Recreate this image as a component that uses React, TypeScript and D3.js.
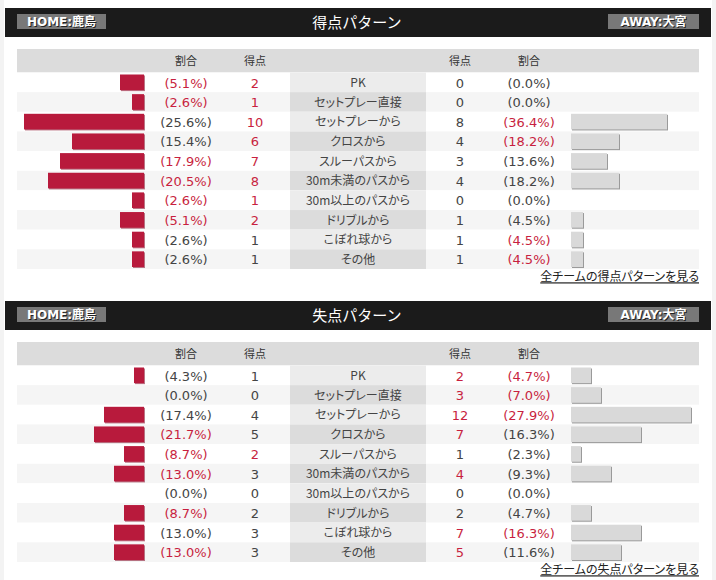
import React from "react";
import * as d3 from "d3";

const categories = [
  "PK",
  "セットプレー直接",
  "セットプレーから",
  "クロスから",
  "スルーパスから",
  "30m未満のパスから",
  "30m以上のパスから",
  "ドリブルから",
  "こぼれ球から",
  "その他",
];

// 得点パターン
const scoredHomeGoals = [2, 1, 10, 6, 7, 8, 1, 2, 1, 1];
const scoredHomePct = [5.1, 2.6, 25.6, 15.4, 17.9, 20.5, 2.6, 5.1, 2.6, 2.6];
const scoredHomeGoalsHi = [1, 1, 1, 1, 1, 1, 1, 1, 0, 0];
const scoredHomePctHi = [1, 1, 0, 0, 1, 1, 1, 1, 0, 0];
const scoredAwayGoals = [0, 0, 8, 4, 3, 4, 0, 1, 1, 1];
const scoredAwayPct = [0.0, 0.0, 36.4, 18.2, 13.6, 18.2, 0.0, 4.5, 4.5, 4.5];
const scoredAwayGoalsHi = [0, 0, 0, 0, 0, 0, 0, 0, 0, 0];
const scoredAwayPctHi = [0, 0, 1, 1, 0, 0, 0, 0, 1, 1];

// 失点パターン
const concededHomeGoals = [1, 0, 4, 5, 2, 3, 0, 2, 3, 3];
const concededHomePct = [4.3, 0.0, 17.4, 21.7, 8.7, 13.0, 0.0, 8.7, 13.0, 13.0];
const concededHomeGoalsHi = [0, 0, 0, 0, 1, 0, 0, 0, 0, 0];
const concededHomePctHi = [0, 0, 0, 1, 1, 1, 0, 1, 0, 1];
const concededAwayGoals = [2, 3, 12, 7, 1, 4, 0, 2, 7, 5];
const concededAwayPct = [4.7, 7.0, 27.9, 16.3, 2.3, 9.3, 0.0, 4.7, 16.3, 11.6];
const concededAwayGoalsHi = [1, 1, 1, 1, 0, 1, 0, 0, 1, 1];
const concededAwayPctHi = [1, 1, 1, 0, 0, 0, 0, 0, 1, 0];

const homeLabel = "HOME:鹿島";
const awayLabel = "AWAY:大宮";
const pctHeader = "割合";
const goalHeader = "得点";

const W = 716;
const H = 580;
const RED = "#c81f40";
const GREY_TXT = "#444";
const NUM_FONT = "'DejaVu Sans', 'Noto Sans CJK JP', sans-serif";
const JP_FONT = "'Noto Sans CJK JP', sans-serif";

type SectionProps = {
  y0: number;
  title: string;
  link: string;
  homeGoals: number[];
  homePct: number[];
  homeGoalsHi: number[];
  homePctHi: number[];
  awayGoals: number[];
  awayPct: number[];
  awayGoalsHi: number[];
  awayPctHi: number[];
};

function Section(p: SectionProps) {
  const left = 17, right = 699;
  const midL = 290, midR = 426;
  const rowTop = p.y0 + 64.5;
  const y = d3.scaleBand<string>()
    .domain(categories)
    .range([rowTop, rowTop + 196.5]);
  const maxGoals = d3.max([...p.homeGoals, ...p.awayGoals]) || 1;
  const w = d3.scaleLinear().domain([0, maxGoals]).range([0, 120]);
  const homeBarRight = 144;
  const awayBarLeft = 571;
  const bh = y.bandwidth();
  const fmt = d3.format(".1f");

  return (
    <g>
      {/* 見出しバー */}
      <rect x={5} y={p.y0} width={706} height={29} fill="#1b1b1b" />
      <rect x={left} y={p.y0 + 6} width={89} height={15} fill="#787878" />
      <text x={61.5} y={p.y0 + 14} dy="0.36em" textAnchor="middle" fontFamily={NUM_FONT} fontSize={12}
        fontWeight="bold" fill="#222" transform="translate(1,1)">{homeLabel}</text>
      <text x={61.5} y={p.y0 + 14} dy="0.36em" textAnchor="middle" fontFamily={NUM_FONT} fontSize={12}
        fontWeight="bold" fill="#fff">{homeLabel}</text>
      <rect x={608} y={p.y0 + 6} width={91} height={15} fill="#787878" />
      <text x={653.5} y={p.y0 + 14} dy="0.36em" textAnchor="middle" fontFamily={NUM_FONT} fontSize={12}
        fontWeight="bold" fill="#222" transform="translate(1,1)">{awayLabel}</text>
      <text x={653.5} y={p.y0 + 14} dy="0.36em" textAnchor="middle" fontFamily={NUM_FONT} fontSize={12}
        fontWeight="bold" fill="#fff">{awayLabel}</text>
      <text x={357} y={p.y0 + 15} dy="0.36em" textAnchor="middle" fontFamily={JP_FONT}
        fontSize={15} fill="#fff">{p.title}</text>

      {/* 表ヘッダ */}
      <rect x={left} y={p.y0 + 41} width={right - left} height={23.5} fill="#dcdcdc" />
      {[[186, pctHeader], [255, goalHeader], [460, goalHeader], [529, pctHeader]].map(([x, t], i) => (
        <text key={i} x={x as number} y={p.y0 + 53} dy="0.36em" textAnchor="middle"
          fontFamily={JP_FONT} fontSize={11} fill="#333">{t as string}</text>
      ))}

      {/* 行 */}
      {categories.map((c, i) => {
        const ry = y(c) as number;
        const cy = ry + bh / 2 + 0.5;
        const hw = w(p.homeGoals[i]);
        const aw = w(p.awayGoals[i]);
        return (
          <g key={c}>
            <rect x={left} y={ry} width={right - left} height={bh} fill={i % 2 ? "#f5f5f5" : "#fff"} />
            <rect x={midL} y={ry} width={midR - midL} height={bh} fill={i % 2 ? "#dcdcdc" : "#ececec"} />
            {hw > 0 && (
              <g>
                <rect x={homeBarRight - hw + 1} y={ry + 3} width={hw} height={bh - 4} fill="#8e1a35" opacity={0.6} />
                <rect x={homeBarRight - hw} y={ry + 2} width={hw} height={bh - 4} fill="#b81a3c" />
              </g>
            )}
            {aw > 0 && (
              <g>
                <rect x={awayBarLeft + 1} y={ry + 3} width={aw} height={bh - 4} fill="#9a9a9a" />
                <rect x={awayBarLeft} y={ry + 2} width={aw} height={bh - 4} fill="#d9d9d9" />
              </g>
            )}
            <text x={186} y={cy} dy="0.36em" textAnchor="middle" fontFamily={NUM_FONT} fontSize={13}
              fill={p.homePctHi[i] ? RED : GREY_TXT}>({fmt(p.homePct[i])}%)</text>
            <text x={255} y={cy} dy="0.36em" textAnchor="middle" fontFamily={NUM_FONT} fontSize={13}
              fill={p.homeGoalsHi[i] ? RED : GREY_TXT}>{p.homeGoals[i]}</text>
            <text x={358} y={cy} dy="0.36em" textAnchor="middle" fontFamily={JP_FONT} fontSize={12}
              fill="#444" style={{ fontFeatureSettings: '"palt"' }}>{c}</text>
            <text x={460} y={cy} dy="0.36em" textAnchor="middle" fontFamily={NUM_FONT} fontSize={13}
              fill={p.awayGoalsHi[i] ? RED : GREY_TXT}>{p.awayGoals[i]}</text>
            <text x={529} y={cy} dy="0.36em" textAnchor="middle" fontFamily={NUM_FONT} fontSize={13}
              fill={p.awayPctHi[i] ? RED : GREY_TXT}>({fmt(p.awayPct[i])}%)</text>
          </g>
        );
      })}

      {/* リンク */}
      <text x={699} y={p.y0 + 269} dy="0.36em" textAnchor="end" fontFamily={JP_FONT} fontSize={12}
        fill="#222" textDecoration="underline" style={{ fontFeatureSettings: '"palt"' }}>{p.link}</text>
    </g>
  );
}

export default function App() {
  return (
    <div style={{ position: "absolute", left: 0, top: 0 }}>
      <svg width={W} height={H}>
        <rect width={W} height={H} fill="#fff" />
        <rect x={0} y={0} width={4} height={H} fill="#f3f3f3" />
        <rect x={712} y={0} width={4} height={H} fill="#f3f3f3" />
        <Section
          y0={8}
          title="得点パターン"
          link="全チームの得点パターンを見る"
          homeGoals={scoredHomeGoals}
          homePct={scoredHomePct}
          homeGoalsHi={scoredHomeGoalsHi}
          homePctHi={scoredHomePctHi}
          awayGoals={scoredAwayGoals}
          awayPct={scoredAwayPct}
          awayGoalsHi={scoredAwayGoalsHi}
          awayPctHi={scoredAwayPctHi}
        />
        <Section
          y0={301}
          title="失点パターン"
          link="全チームの失点パターンを見る"
          homeGoals={concededHomeGoals}
          homePct={concededHomePct}
          homeGoalsHi={concededHomeGoalsHi}
          homePctHi={concededHomePctHi}
          awayGoals={concededAwayGoals}
          awayPct={concededAwayPct}
          awayGoalsHi={concededAwayGoalsHi}
          awayPctHi={concededAwayPctHi}
        />
      </svg>
    </div>
  );
}
